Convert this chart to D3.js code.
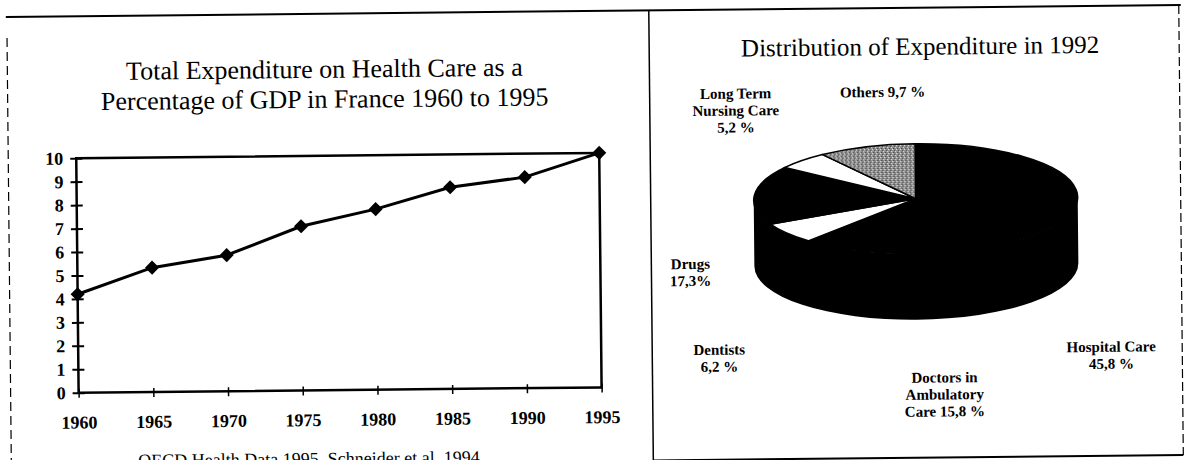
<!DOCTYPE html>
<html>
<head>
<meta charset="utf-8">
<script src="https://cdn.jsdelivr.net/npm/d3@7"></script>
<style>
body{margin:0;background:#fff;}
</style>
</head>
<body>
<script>
//data
var years = [1960, 1965, 1970, 1975, 1980, 1985, 1990, 1995];
var gdpShare = [4.2, 5.3, 5.8, 7.0, 7.7, 8.6, 9.0, 10.0];
var yTicks = [0, 1, 2, 3, 4, 5, 6, 7, 8, 9, 10];

var sliceNames = ["Hospital Care", "Doctors in Ambulatory Care", "Dentists", "Drugs", "Long Term Nursing Care", "Others"];
var sliceShares = [45.8, 15.8, 6.2, 17.3, 5.2, 9.7];
var sliceLabels = [
    ["Hospital Care", "45,8 %"],
    ["Doctors in", "Ambulatory", "Care 15,8 %"],
    ["Dentists", "6,2 %"],
    ["Drugs", "17,3%"],
    ["Long Term", "Nursing Care", "5,2 %"],
    ["Others 9,7 %"]
];

//layout (kept apart from the data)
var W = 1185, H = 460;
var SERIF = "'Liberation Serif', 'Times New Roman', Times, serif";
var plot = {left: 77, right: 600, top: 153, bottom: 387.5};
var pie = {cx: 916, cy: 202, rx: 162, ry: 55, depth: 66};
var sliceFill = ["#000", "#000", "#fff", "#000", "#fff", "url(#stipple)"];
var labelPos = [[1110, 357], [943, 386], [718, 356], [690, 270], [737, 100], [884, 100]];

var svg = d3.select("body").append("svg")
    .attr("width", W)
    .attr("height", H);

//stippled grey for "Others"
var pat = svg.append("defs").append("pattern")
    .attr("id", "stipple")
    .attr("patternUnits", "userSpaceOnUse")
    .attr("width", 4).attr("height", 4)
    .attr("patternTransform", "scale(1," + (pie.rx / pie.ry) + ")");
pat.append("rect").attr("width", 4).attr("height", 4).attr("fill", "#8c8c8c");
pat.append("rect").attr("x", 0).attr("y", 0).attr("width", 1).attr("height", 1).attr("fill", "#eee");
pat.append("rect").attr("x", 2).attr("y", 1).attr("width", 1).attr("height", 1).attr("fill", "#333");
pat.append("rect").attr("x", 1).attr("y", 2).attr("width", 1).attr("height", 1).attr("fill", "#fff");
pat.append("rect").attr("x", 3).attr("y", 3).attr("width", 1).attr("height", 1).attr("fill", "#444");

//the scan is slightly skewed
var g = svg.append("g").attr("transform", "rotate(-0.58," + W / 2 + "," + H / 2 + ")");

function addText(x, y, s, size, weight, anchor){
    return g.append("text")
        .attr("x", x).attr("y", y)
        .attr("text-anchor", anchor || "middle")
        .style("font-family", SERIF)
        .style("font-size", size + "px")
        .style("font-weight", weight || "normal")
        .style("fill", "#000")
        .text(s);
}

//multi-line text as one element
function addLines(x, y, lines, size, weight, step){
    var t = addText(x, y, null, size, weight);
    lines.forEach(function(s, k){
        t.append("tspan").attr("x", x).attr("dy", k === 0 ? 0 : step).text(s);
    });
    return t;
}

//page frame
g.append("line").attr("x1", 8).attr("x2", 1183).attr("y1", 11).attr("y2", 11)
    .attr("stroke", "#000").attr("stroke-width", 2);
g.append("line").attr("x1", 9).attr("x2", 9).attr("y1", 32).attr("y2", 470)
    .attr("stroke", "#000").attr("stroke-width", 1.2).attr("stroke-dasharray", "9,5");
g.append("line").attr("x1", 1181).attr("x2", 1181).attr("y1", 11).attr("y2", 461)
    .attr("stroke", "#000").attr("stroke-width", 1.2).attr("stroke-dasharray", "9,4");
g.append("line").attr("x1", 651).attr("x2", 651).attr("y1", 11).attr("y2", 470)
    .attr("stroke", "#000").attr("stroke-width", 1.5);
g.append("line").attr("x1", 651).attr("x2", 1181).attr("y1", 461).attr("y2", 461)
    .attr("stroke", "#000").attr("stroke-width", 2);

//---------- line chart ----------
var x = d3.scaleLinear().domain([1960, 1995]).range([plot.left, plot.right]);
var y = d3.scaleLinear().domain([0, 10]).range([plot.bottom, plot.top]);

addLines(326, 75, ["Total Expenditure on Health Care as a",
                   "Percentage of GDP in France 1960 to 1995"], 26, "normal", 30);

g.append("rect")
    .attr("x", plot.left).attr("y", plot.top)
    .attr("width", plot.right - plot.left).attr("height", plot.bottom - plot.top)
    .attr("fill", "none").attr("stroke", "#000").attr("stroke-width", 2.5);

var yAxis = g.append("g")
    .attr("transform", "translate(" + plot.left + ",0)")
    .call(d3.axisLeft(y).tickValues(yTicks).tickSize(6).tickPadding(7).tickFormat(d3.format("d")));
yAxis.select(".domain").remove();
yAxis.selectAll(".tick line").attr("x1", 6).attr("stroke-width", 2);
yAxis.selectAll("text").style("font-size", "18px").style("font-weight", "bold")
    .style("font-family", SERIF);

var xAxis = g.append("g")
    .attr("transform", "translate(0," + plot.bottom + ")")
    .call(d3.axisBottom(x).tickValues(years).tickSize(5).tickPadding(18).tickFormat(d3.format("d")));
xAxis.select(".domain").remove();
xAxis.selectAll(".tick line").attr("y1", -4).attr("stroke-width", 1.5);
xAxis.selectAll("text").style("font-size", "18px").style("font-weight", "bold")
    .style("font-family", SERIF);

var line = d3.line()
    .x(function(d, i){ return x(years[i]); })
    .y(function(d){ return y(d); });

g.append("path").datum(gdpShare)
    .attr("d", line)
    .attr("fill", "none").attr("stroke", "#000").attr("stroke-width", 3);

g.selectAll(".marker").data(gdpShare).enter().append("path")
    .attr("class", "marker")
    .attr("d", d3.symbol(d3.symbolSquare, 100))
    .attr("transform", function(d, i){
        return "translate(" + x(years[i]) + "," + y(d) + ") rotate(45)";
    })
    .attr("fill", "#000");

//source line, cut by the bottom of the scan
addText(136, 462, "OECD Health Data 1995, Schneider et al. 1994", 18, "normal", "start");

//---------- 3D pie ----------
addText(922, 58, "Distribution of Expenditure in 1992", 25);

//cylinder side, drawn first so the top face sits over it
var L = pie.cx - pie.rx, R = pie.cx + pie.rx;
var sidePath = "M" + L + "," + pie.cy +
    "L" + L + "," + (pie.cy + pie.depth) +
    "A" + pie.rx + "," + pie.ry + " 0 0 0 " + R + "," + (pie.cy + pie.depth) +
    "L" + R + "," + pie.cy +
    "A" + pie.rx + "," + pie.ry + " 0 0 1 " + L + "," + pie.cy + "Z";
g.append("path").attr("d", sidePath).attr("fill", "#000");

var slices = d3.pie().sort(null).value(function(d){ return d; })(sliceShares);
var arc = d3.arc().innerRadius(0).outerRadius(pie.rx);

g.append("g")
    .attr("transform", "translate(" + pie.cx + "," + pie.cy + ") scale(1," + (pie.ry / pie.rx) + ")")
    .selectAll("path").data(slices).enter().append("path")
    .attr("d", arc)
    .attr("fill", function(d, i){ return sliceFill[i]; })
    .attr("stroke", "#000").attr("stroke-width", 1.5)
    .attr("vector-effect", "non-scaling-stroke");

//labels
sliceLabels.forEach(function(lines, i){
    addLines(labelPos[i][0], labelPos[i][1], lines, 15, "bold", 17);
});
</script>
</body>
</html>
